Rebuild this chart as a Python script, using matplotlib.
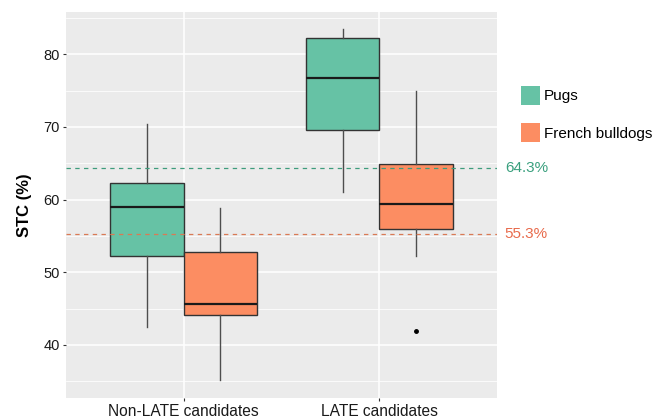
import matplotlib
matplotlib.use("Agg")
import matplotlib.pyplot as plt
from matplotlib.patches import Patch
from matplotlib.ticker import MultipleLocator

plt.rcParams['font.family'] = ['Liberation Sans', 'DejaVu Sans']

# Groups and breeds
groups = ["Non-LATE candidates", "LATE candidates"]
breeds = ["Pugs", "French bulldogs"]
fill_colors = ["#66C2A5", "#FC8D62"]

# Box summary per breed, one entry per group: whisker low, Q1, median, Q3, whisker high
pugs_whislo = [42.5, 61.1]
pugs_q1 = [52.3, 69.6]
pugs_med = [59.0, 76.7]
pugs_q3 = [62.3, 82.2]
pugs_whishi = [70.4, 83.4]
pugs_fliers = [[], []]

frb_whislo = [35.2, 52.3]
frb_q1 = [44.1, 55.9]
frb_med = [45.6, 59.4]
frb_q3 = [52.8, 64.9]
frb_whishi = [58.9, 75.0]
frb_fliers = [[], [41.85]]

# Reference lines (overall breed values)
ref_values = [64.3, 55.3]
ref_labels = ["64.3%", "55.3%"]
ref_line_colors = ["#3E9C7C", "#D97A55"]
ref_text_colors = ["#3AA07E", "#E86A4B"]

fig = plt.figure(figsize=(6.56, 4.18), dpi=100)
ax = fig.add_axes([66 / 656, 1 - 398 / 418, (497 - 66) / 656, (398 - 12) / 418])
ax.set_facecolor("#EBEBEB")
for s in ax.spines.values():
    s.set_visible(False)

ax.set_xlim(0.4, 2.6)
ax.set_ylim(32.7, 85.8)
ax.yaxis.set_major_locator(MultipleLocator(10))
ax.yaxis.set_minor_locator(MultipleLocator(5))
ax.grid(which="major", color="white", linewidth=1.1)
ax.grid(which="minor", axis="y", color="white", linewidth=0.55)
ax.set_axisbelow(True)

series = [
    (pugs_whislo, pugs_q1, pugs_med, pugs_q3, pugs_whishi, pugs_fliers),
    (frb_whislo, frb_q1, frb_med, frb_q3, frb_whishi, frb_fliers),
]
dodge = 0.1875
box_w = 0.375
for b, (wl, q1, med, q3, wh, fl) in enumerate(series):
    stats = []
    for g in range(len(groups)):
        stats.append(dict(whislo=wl[g], q1=q1[g], med=med[g], q3=q3[g],
                          whishi=wh[g], fliers=fl[g]))
    positions = [g + 1 + (dodge if b else -dodge) for g in range(len(groups))]
    ax.bxp(stats, positions=positions, widths=box_w, patch_artist=True,
           showcaps=False,
           boxprops=dict(facecolor=fill_colors[b], edgecolor="#333333", linewidth=1.0),
           medianprops=dict(color="#1a1a1a", linewidth=1.6),
           whiskerprops=dict(color="#4d4d4d", linewidth=1.0),
           flierprops=dict(marker="o", markersize=2.5, markerfacecolor="black",
                           markeredgecolor="black"),
           manage_ticks=False, zorder=3)

for v, lab, lc, tc in zip(ref_values, ref_labels, ref_line_colors, ref_text_colors):
    ax.axhline(v, color=lc, linestyle=(0, (3.5, 3.5)), linewidth=0.9, zorder=4)
    ax.text(1.018, v, lab, transform=ax.get_yaxis_transform(), color=tc,
            fontsize=11, va="center", ha="left", clip_on=False)

ax.set_xticks([1, 2])
ax.set_xticklabels(groups)
ax.tick_params(axis="x", which="major", labelsize=11.2)
ax.tick_params(axis="y", which="major", labelsize=10.5)
ax.tick_params(axis="both", which="major", length=2.5, color="#333333",
               labelcolor="#1a1a1a", pad=2)
ax.tick_params(axis="y", which="minor", length=0)
ax.set_ylabel("STC (%)", fontsize=12, fontweight="bold", labelpad=8)

handles = [Patch(facecolor=c, edgecolor="none") for c in fill_colors]
fig.legend(handles, breeds, loc="upper left", bbox_to_anchor=(507 / 656, 1 - 72 / 418),
           frameon=False, fontsize=11, handlelength=1.25, handleheight=1.55,
           handletextpad=0.25, labelspacing=1.2)

fig.savefig("out.png", dpi=100)
